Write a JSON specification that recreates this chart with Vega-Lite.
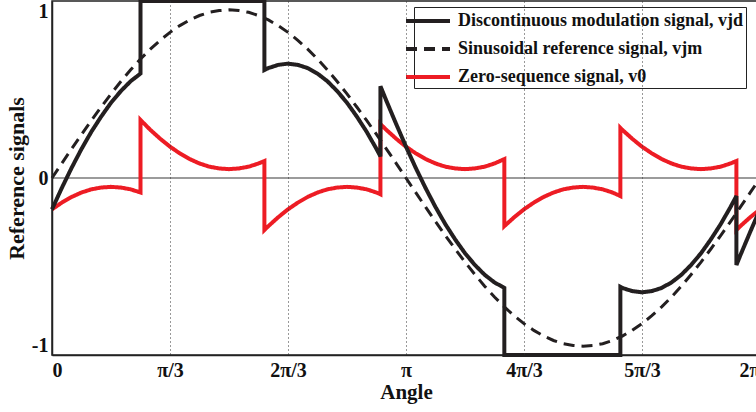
{
  "$schema": "https://vega.github.io/schema/vega-lite/v6.json",
  "autosize": {"type": "none"},
  "padding": {"left": 52, "top": 1, "right": 0, "bottom": 57},
  "width": 708,
  "height": 354,
  "background": "white",
  "data": {"values": [
    {"i":0,"a":0,"m":0,"z":-0.177,"d":-0.177},
    {"i":1,"a":5,"m":0.083,"z":-0.139,"d":-0.056},
    {"i":2,"a":10,"m":0.165,"z":-0.107,"d":0.058},
    {"i":3,"a":15,"m":0.246,"z":-0.082,"d":0.164},
    {"i":4,"a":20,"m":0.325,"z":-0.064,"d":0.261},
    {"i":5,"a":25,"m":0.401,"z":-0.054,"d":0.347},
    {"i":6,"a":30,"m":0.475,"z":-0.05,"d":0.425},
    {"i":7,"a":35,"m":0.545,"z":-0.054,"d":0.491},
    {"i":8,"a":40,"m":0.611,"z":-0.064,"d":0.547},
    {"i":9,"a":45,"m":0.672,"z":-0.082,"d":0.59},
    {"i":10,"a":45,"m":0.672,"z":0.328,"d":1},
    {"i":11,"a":50,"m":0.728,"z":0.272,"d":1},
    {"i":12,"a":55,"m":0.778,"z":0.222,"d":1},
    {"i":13,"a":60,"m":0.823,"z":0.177,"d":1},
    {"i":14,"a":65,"m":0.861,"z":0.139,"d":1},
    {"i":15,"a":70,"m":0.893,"z":0.107,"d":1},
    {"i":16,"a":75,"m":0.918,"z":0.082,"d":1},
    {"i":17,"a":80,"m":0.936,"z":0.064,"d":1},
    {"i":18,"a":85,"m":0.946,"z":0.054,"d":1},
    {"i":19,"a":90,"m":0.95,"z":0.05,"d":1},
    {"i":20,"a":95,"m":0.946,"z":0.054,"d":1},
    {"i":21,"a":100,"m":0.936,"z":0.064,"d":1},
    {"i":22,"a":105,"m":0.918,"z":0.082,"d":1},
    {"i":23,"a":108,"m":0.904,"z":0.096,"d":1},
    {"i":24,"a":108,"m":0.904,"z":-0.294,"d":0.61},
    {"i":25,"a":110,"m":0.893,"z":-0.272,"d":0.621},
    {"i":26,"a":115,"m":0.861,"z":-0.222,"d":0.639},
    {"i":27,"a":120,"m":0.823,"z":-0.177,"d":0.646},
    {"i":28,"a":125,"m":0.778,"z":-0.139,"d":0.639},
    {"i":29,"a":130,"m":0.728,"z":-0.107,"d":0.621},
    {"i":30,"a":135,"m":0.672,"z":-0.082,"d":0.59},
    {"i":31,"a":140,"m":0.611,"z":-0.064,"d":0.547},
    {"i":32,"a":145,"m":0.545,"z":-0.054,"d":0.491},
    {"i":33,"a":150,"m":0.475,"z":-0.05,"d":0.425},
    {"i":34,"a":155,"m":0.401,"z":-0.054,"d":0.347},
    {"i":35,"a":160,"m":0.325,"z":-0.064,"d":0.261},
    {"i":36,"a":165,"m":0.246,"z":-0.082,"d":0.164},
    {"i":37,"a":167,"m":0.214,"z":-0.092,"d":0.122},
    {"i":38,"a":167,"m":0.214,"z":0.305,"d":0.519},
    {"i":39,"a":170,"m":0.165,"z":0.272,"d":0.437},
    {"i":40,"a":175,"m":0.083,"z":0.222,"d":0.305},
    {"i":41,"a":180,"m":0,"z":0.177,"d":0.177},
    {"i":42,"a":185,"m":-0.083,"z":0.139,"d":0.056},
    {"i":43,"a":190,"m":-0.165,"z":0.107,"d":-0.058},
    {"i":44,"a":195,"m":-0.246,"z":0.082,"d":-0.164},
    {"i":45,"a":200,"m":-0.325,"z":0.064,"d":-0.261},
    {"i":46,"a":205,"m":-0.401,"z":0.054,"d":-0.347},
    {"i":47,"a":210,"m":-0.475,"z":0.05,"d":-0.425},
    {"i":48,"a":215,"m":-0.545,"z":0.054,"d":-0.491},
    {"i":49,"a":220,"m":-0.611,"z":0.064,"d":-0.547},
    {"i":50,"a":225,"m":-0.672,"z":0.082,"d":-0.59},
    {"i":51,"a":230,"m":-0.728,"z":0.107,"d":-0.621},
    {"i":52,"a":230,"m":-0.728,"z":-0.272,"d":-1},
    {"i":53,"a":235,"m":-0.778,"z":-0.222,"d":-1},
    {"i":54,"a":240,"m":-0.823,"z":-0.177,"d":-1},
    {"i":55,"a":245,"m":-0.861,"z":-0.139,"d":-1},
    {"i":56,"a":250,"m":-0.893,"z":-0.107,"d":-1},
    {"i":57,"a":255,"m":-0.918,"z":-0.082,"d":-1},
    {"i":58,"a":260,"m":-0.936,"z":-0.064,"d":-1},
    {"i":59,"a":265,"m":-0.946,"z":-0.054,"d":-1},
    {"i":60,"a":270,"m":-0.95,"z":-0.05,"d":-1},
    {"i":61,"a":275,"m":-0.946,"z":-0.054,"d":-1},
    {"i":62,"a":280,"m":-0.936,"z":-0.064,"d":-1},
    {"i":63,"a":285,"m":-0.918,"z":-0.082,"d":-1},
    {"i":64,"a":289,"m":-0.898,"z":-0.102,"d":-1},
    {"i":65,"a":289,"m":-0.898,"z":0.283,"d":-0.615},
    {"i":66,"a":290,"m":-0.893,"z":0.272,"d":-0.621},
    {"i":67,"a":295,"m":-0.861,"z":0.222,"d":-0.639},
    {"i":68,"a":300,"m":-0.823,"z":0.177,"d":-0.646},
    {"i":69,"a":305,"m":-0.778,"z":0.139,"d":-0.639},
    {"i":70,"a":310,"m":-0.728,"z":0.107,"d":-0.621},
    {"i":71,"a":315,"m":-0.672,"z":0.082,"d":-0.59},
    {"i":72,"a":320,"m":-0.611,"z":0.064,"d":-0.547},
    {"i":73,"a":325,"m":-0.545,"z":0.054,"d":-0.491},
    {"i":74,"a":330,"m":-0.475,"z":0.05,"d":-0.425},
    {"i":75,"a":335,"m":-0.401,"z":0.054,"d":-0.347},
    {"i":76,"a":340,"m":-0.325,"z":0.064,"d":-0.261},
    {"i":77,"a":345,"m":-0.246,"z":0.082,"d":-0.164},
    {"i":78,"a":348,"m":-0.198,"z":0.096,"d":-0.102},
    {"i":79,"a":348,"m":-0.198,"z":-0.294,"d":-0.492},
    {"i":80,"a":350,"m":-0.165,"z":-0.272,"d":-0.437},
    {"i":81,"a":355,"m":-0.083,"z":-0.222,"d":-0.305},
    {"i":82,"a":360,"m":0,"z":-0.177,"d":-0.177}
  ]},
  "layer": [
    {
      "data": {"values": [{}]},
      "mark": {"type": "rule", "color": "#7a7a7a", "strokeWidth": 1.5},
      "encoding": {"y": {"datum": 0, "type": "quantitative"}}
    },
    {
      "transform": [{"fold": ["z", "m", "d"], "as": ["s", "v"]}],
      "encoding": {
        "x": {
          "field": "a", "type": "quantitative",
          "scale": {"domain": [0, 360], "nice": false, "zero": false},
          "axis": {
            "title": "Angle",
            "values": [0, 60, 120, 180, 240, 300, 360],
            "labelExpr": "datum.value == 0 ? '0' : datum.value == 60 ? 'π/3' : datum.value == 120 ? '2π/3' : datum.value == 180 ? 'π' : datum.value == 240 ? '4π/3' : datum.value == 300 ? '5π/3' : '2π'",
            "grid": true, "gridDash": [1, 3], "gridColor": "#333", "gridWidth": 1,
            "ticks": false, "domain": true, "domainColor": "#222", "domainWidth": 1.5,
            "labelPadding": 5, "titlePadding": 1, "titleFontSize": 21, "zindex": 1
          }
        },
        "y": {
          "field": "v", "type": "quantitative",
          "scale": {"domain": [-1, 1], "nice": false},
          "axis": {
            "title": "Reference signals",
            "values": [-1, 0, 1],
            "labelExpr": "datum.value == 1 ? '1' : datum.value == 0 ? '0' : '-1'",
            "grid": false, "ticks": false, "domain": true, "domainColor": "#222", "domainWidth": 1.5,
            "labelFlush": true, "labelPadding": 4, "titlePadding": 3, "titleFontSize": 22, "zindex": 1
          }
        },
        "order": {"field": "i", "type": "quantitative"},
        "color": {
          "field": "s", "type": "nominal",
          "scale": {"domain": ["d", "m", "z"], "range": ["#231f20", "#231f20", "#ed1c24"]},
          "legend": {
            "title": null,
            "orient": "none", "legendX": 362, "legendY": 6,
            "labelExpr": "datum.value == 'd' ? 'Discontinuous modulation signal, vjd' : datum.value == 'm' ? 'Sinusoidal reference signal, vjm' : 'Zero-sequence signal, v0'",
            "symbolType": "M-2.2,0H2.2", "symbolSize": 400, "symbolStrokeWidth": 4,
            "fillColor": "white", "strokeColor": "#222", "padding": 2,
            "rowPadding": 7, "labelOffset": 18, "labelLimit": 400
          }
        },
        "strokeDash": {
          "field": "s", "type": "nominal",
          "scale": {"domain": ["d", "m", "z"], "range": [[1, 0], [11, 7], [1, 0]]}
        }
      },
      "layer": [
        {
          "transform": [{"filter": "datum.s == 'z'"}],
          "mark": {"type": "line", "strokeWidth": 4, "strokeJoin": "miter"}
        },
        {
          "transform": [{"filter": "datum.s == 'm'"}],
          "mark": {"type": "line", "strokeWidth": 3, "strokeJoin": "miter"}
        },
        {
          "transform": [{"filter": "datum.s == 'd'"}],
          "mark": {"type": "line", "strokeWidth": 4, "strokeJoin": "miter"}
        }
      ]
    }
  ],
  "config": {
    "font": "Liberation Serif",
    "view": {"stroke": "#222", "strokeWidth": 1.5},
    "axis": {
      "labelFont": "Liberation Serif", "labelFontWeight": "bold", "labelFontSize": 20, "labelColor": "#111",
      "titleFont": "Liberation Serif", "titleFontWeight": "bold", "titleFontSize": 21, "titleColor": "#111"
    },
    "legend": {
      "labelFont": "Liberation Serif", "labelFontWeight": "bold", "labelFontSize": 18, "labelColor": "#111"
    }
  }
}
